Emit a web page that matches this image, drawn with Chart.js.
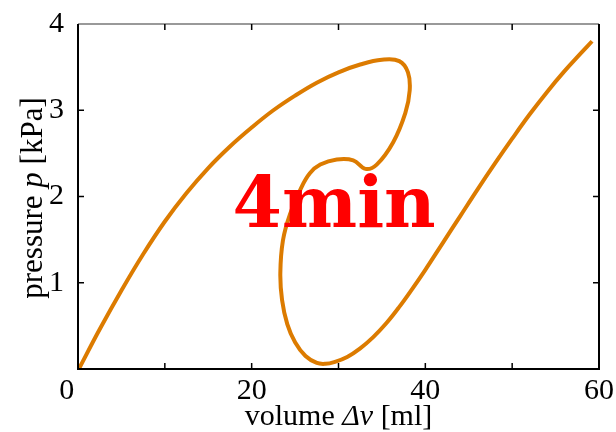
<!DOCTYPE html>
<html>
<head>
<meta charset="utf-8">
<script src="https://cdn.jsdelivr.net/npm/chart.js@4"></script>
<style>
  body { margin: 0; background: #fff; }
  canvas { display: block; }
</style>
</head>
<body>
<canvas id="pvLoop" width="616" height="432"></canvas>
<script>
"use strict";
// pressure-volume loop, traced in drawing order
var volume = [0.1, 2.5, 5.0, 7.5, 10.0, 12.5, 15.0, 17.5, 20.0, 22.5,
              25.0, 27.5, 30.0, 32.5, 35.0, 37.0, 38.0, 38.2, 37.7, 36.3,
              34.4, 33.1, 31.7, 29.8, 27.9, 26.7, 25.7, 24.4, 23.6, 23.3,
              23.5, 24.1, 25.0, 26.2, 27.5, 28.5, 29.5, 31.0, 32.5, 34.0,
              35.5, 37.0, 38.5, 40.0, 42.0, 44.0, 46.0, 48.0, 50.0, 52.0,
              54.0, 56.0, 58.0, 59.2];
var pressure = [0.00, 0.46, 0.91, 1.33, 1.71, 2.04, 2.33, 2.58, 2.80, 3.00,
                3.17, 3.32, 3.44, 3.53, 3.585, 3.57, 3.44, 3.23, 2.97, 2.63,
                2.37, 2.32, 2.42, 2.43, 2.37, 2.27, 2.10, 1.79, 1.49, 1.11,
                0.80, 0.52, 0.31, 0.15, 0.07, 0.06, 0.08, 0.14, 0.24, 0.37,
                0.53, 0.72, 0.93, 1.15, 1.46, 1.77, 2.08, 2.38, 2.67, 2.95,
                3.21, 3.45, 3.67, 3.80];
var xLabels = [0, 20, 40, 60];
var yLabels = [1, 2, 3, 4];
var stamp = "4min";
var stampAt = [29.5, 1.65];

var points = [];
for (var i = 0; i < volume.length; i++) {
    points.push({x: volume[i], y: pressure[i]});
}

var serif = "'Liberation Serif', 'Times New Roman', serif";

// draws mixed regular / italic text pieces centred on (0,0)
function drawPieces(ctx, pieces, size) {
    var total = 0;
    pieces.forEach(function(p) {
        ctx.font = (p[1] ? "italic " : "") + size + "px " + serif;
        p.w = ctx.measureText(p[0]).width;
        total += p.w;
    });
    var x = -total / 2;
    pieces.forEach(function(p) {
        ctx.font = (p[1] ? "italic " : "") + size + "px " + serif;
        ctx.fillText(p[0], x, 0);
        x += p.w;
    });
}

var framePlugin = {
    id: 'frame',
    afterDatasetsDraw: function(chart) {
        var ctx = chart.ctx;
        var a = chart.chartArea;
        var xs = chart.scales.x, ys = chart.scales.y;
        ctx.save();

        // stamp text over the curve
        ctx.fillStyle = '#ff0000';
        ctx.font = "bold 71px 'DejaVu Serif', serif";
        ctx.textAlign = 'center';
        ctx.textBaseline = 'alphabetic';
        ctx.fillText(stamp, xs.getPixelForValue(stampAt[0]), ys.getPixelForValue(stampAt[1]));

        // box
        ctx.lineCap = 'butt';
        ctx.strokeStyle = '#777';
        ctx.lineWidth = 1.5;
        ctx.beginPath();
        ctx.moveTo(a.left, a.top);
        ctx.lineTo(a.right, a.top);
        ctx.stroke();
        ctx.strokeStyle = '#000';
        ctx.lineWidth = 2;
        ctx.beginPath();
        ctx.moveTo(a.left, a.top);
        ctx.lineTo(a.left, a.bottom);
        ctx.lineTo(a.right, a.bottom);
        ctx.lineTo(a.right, a.top);
        ctx.stroke();

        // inward ticks
        ctx.lineWidth = 1.5;
        ctx.beginPath();
        xs.ticks.forEach(function(t) {
            var px = xs.getPixelForValue(t.value);
            if (t.value <= xs.min || t.value >= xs.max) return;
            ctx.moveTo(px, a.bottom); ctx.lineTo(px, a.bottom - 6);
            ctx.moveTo(px, a.top); ctx.lineTo(px, a.top + 6);
        });
        ys.ticks.forEach(function(t) {
            var py = ys.getPixelForValue(t.value);
            if (t.value <= ys.min || t.value >= ys.max) return;
            ctx.moveTo(a.left, py); ctx.lineTo(a.left + 6, py);
            ctx.moveTo(a.right, py); ctx.lineTo(a.right - 6, py);
        });
        ctx.stroke();

        // axis titles
        ctx.fillStyle = '#000';
        ctx.textAlign = 'left';
        ctx.save();
        ctx.translate((a.left + a.right) / 2, 425);
        drawPieces(ctx, [["volume ", false], ["\u0394v", true], [" [ml]", false]], 30);
        ctx.restore();
        ctx.save();
        ctx.translate(42, 198);
        ctx.rotate(-Math.PI / 2);
        drawPieces(ctx, [["pressure ", false], ["p", true], [" [kPa]", false]], 31);
        ctx.restore();

        ctx.restore();
    }
};

var ctx = document.getElementById('pvLoop').getContext('2d');

var pvChart = new Chart(ctx, {
    type: 'line',
    data: {
        datasets: [{
            data: points,
            borderColor: '#dc7b00',
            borderWidth: 4,
            tension: 0.4,
            pointRadius: 0,
            fill: false
        }]
    },
    options: {
        responsive: false,
        animation: false,
        events: [],
        elements: { line: { capBezierPoints: false, borderJoinStyle: 'round' } },
        layout: { padding: { top: 20, right: 17, left: 0, bottom: 0 } },
        plugins: { legend: { display: false }, tooltip: { enabled: false } },
        scales: {
            x: {
                type: 'linear', min: 0, max: 60,
                grid: { display: false },
                border: { display: false },
                afterFit: function(s) { s.height = 63; },
                ticks: {
                    stepSize: 10,
                    autoSkip: false,
                    maxRotation: 0,
                    padding: -4,
                    color: '#000',
                    font: { family: serif, size: 30 },
                    callback: function(v) {
                        if (xLabels.indexOf(v) < 0) return '';
                        return v === 0 ? '0\u2002 ' : String(v);
                    }
                }
            },
            y: {
                type: 'linear', min: 0, max: 4,
                grid: { display: false },
                border: { display: false },
                afterFit: function(s) { s.width = 78; },
                ticks: {
                    stepSize: 1,
                    padding: 6,
                    color: '#000',
                    font: { family: serif, size: 30 },
                    callback: function(v) { return yLabels.indexOf(v) >= 0 ? String(v) : ''; }
                }
            }
        }
    },
    plugins: [framePlugin]
});
</script>
</body>
</html>
